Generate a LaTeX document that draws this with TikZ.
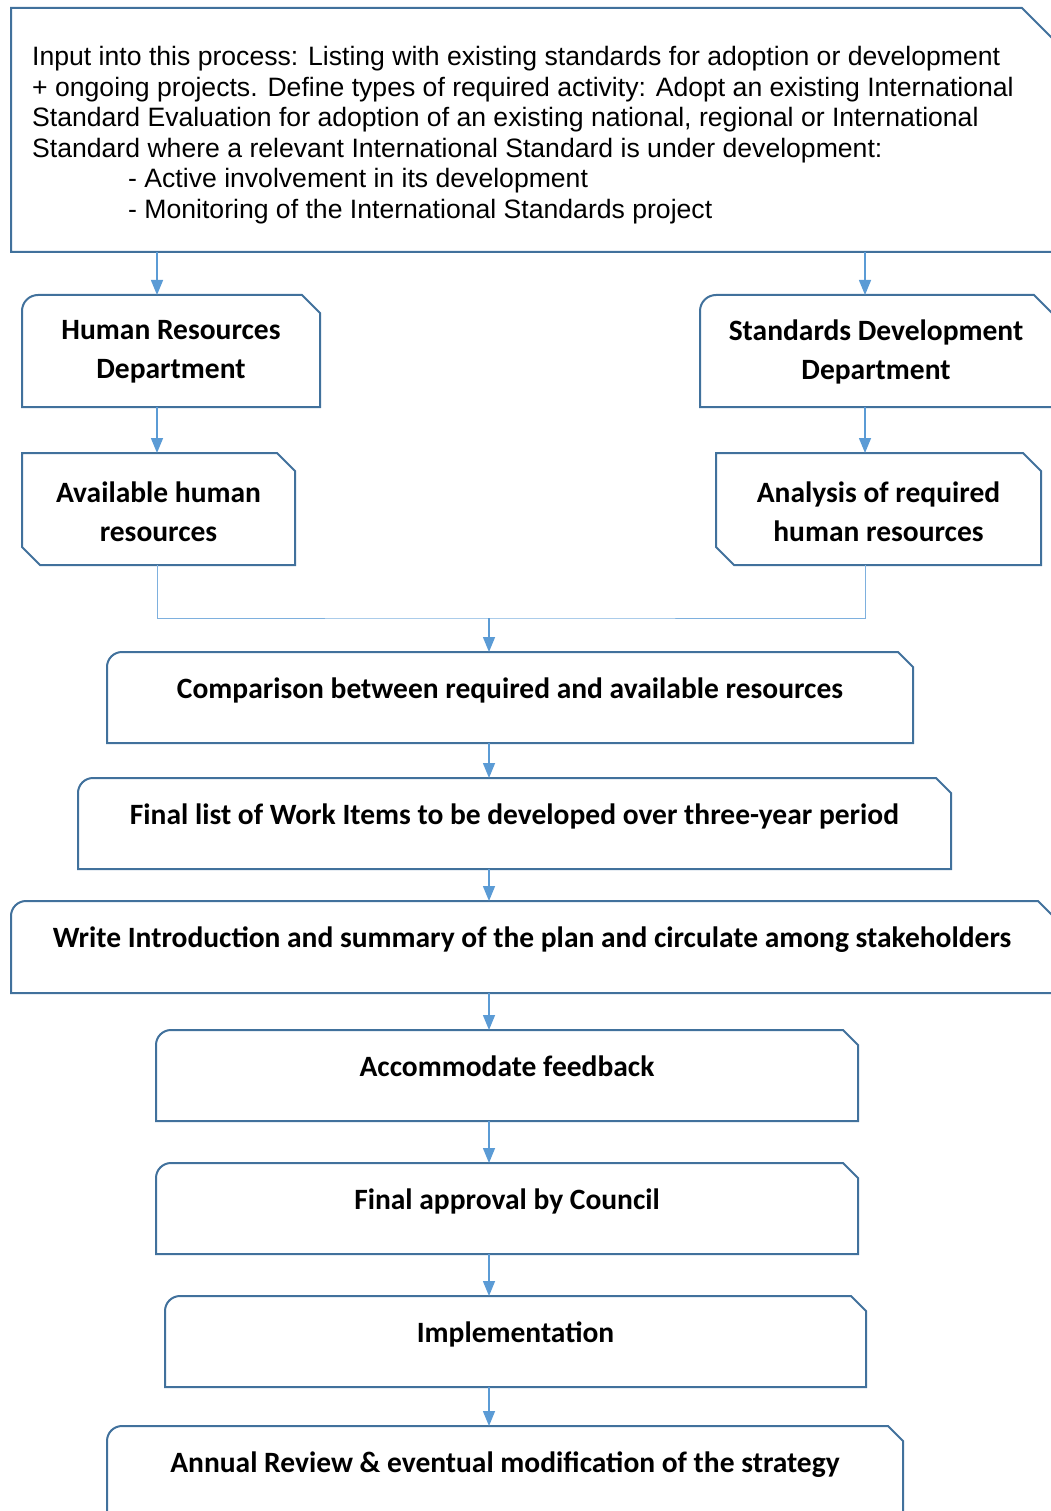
\documentclass[tikz,border=0pt]{standalone}
\usepackage{fontspec}
\setmainfont{Liberation Sans}
\newfontfamily\lblfont{Carlito}
\usetikzlibrary{arrows.meta}
\definecolor{boxblue}{HTML}{41719C}
\definecolor{arrblue}{HTML}{5B9BD5}
\definecolor{mergeblue}{HTML}{7EB0DE}
% rounded top-left corner (radius #2) and chamfered top-right corner (#3)
\newcommand{\roundchamfer}[3]{%
  \draw[boxline] (#1.south west) -- ([yshift=-#2pt]#1.north west)
    .. controls ([yshift={-0.448*#2pt}]#1.north west) and ([xshift={0.448*#2pt}]#1.north west) ..
    ([xshift=#2pt]#1.north west) -- ([xshift=-#3pt]#1.north east) -- ([yshift=-#3pt]#1.north east)
    -- (#1.south east) -- cycle;}
% chamfered top-right and bottom-left corners (#2)
\newcommand{\doublechamfer}[2]{%
  \draw[boxline] ([yshift=#2pt]#1.south west) -- (#1.north west) -- ([xshift=-#2pt]#1.north east)
    -- ([yshift=-#2pt]#1.north east) -- (#1.south east) -- ([xshift=#2pt]#1.south west) -- cycle;}
\begin{document}
\begin{tikzpicture}[x=1pt,y=-1pt,
  boxnode/.style={inner sep=0pt,outer sep=0pt,anchor=north west},
  boxline/.style={draw=boxblue,line width=2pt,line join=miter},
  arr/.style={draw=arrblue,line width=1.5pt,-{Triangle[width=12pt,length=15pt]}},
  mline/.style={draw=mergeblue,line width=1pt},
  lbl1/.style={font=\lblfont\bfseries\fontsize{29.5}{39}\selectfont,text height=21pt,text depth=6pt,inner sep=0pt,anchor=center},
  lbl2/.style={font=\lblfont\bfseries\fontsize{29.5}{39}\selectfont,align=center,inner sep=0pt,anchor=center},
  toptext/.style={font=\fontsize{26.6}{30.5}\selectfont,align=left,inner sep=0pt,anchor=west}]
\useasboundingbox (0,0) rectangle (1051,1511);
\clip (0,0) rectangle (1051,1511);
% helper columns for the connectors
\coordinate (xL) at (157,0);
\coordinate (xR) at (865,0);
\coordinate (xC) at (489,0);
\coordinate (merge) at (489,618);
% box frames
\node[boxnode,minimum width=1051pt,minimum height=244pt] (top) at (11,8) {};
\node[boxnode,minimum width=298pt,minimum height=112pt] (hr) at (22,295) {};
\node[boxnode,minimum width=352pt,minimum height=112pt] (sdd) at (700,295) {};
\node[boxnode,minimum width=273pt,minimum height=112pt] (avail) at (22,453) {};
\node[boxnode,minimum width=325pt,minimum height=112pt] (ana) at (716,453) {};
\node[boxnode,minimum width=806pt,minimum height=91pt] (cmp) at (107,652) {};
\node[boxnode,minimum width=873pt,minimum height=91pt] (fin) at (78,778) {};
\node[boxnode,minimum width=1042pt,minimum height=92pt] (wri) at (11,901) {};
\node[boxnode,minimum width=702pt,minimum height=91pt] (acc) at (156,1030) {};
\node[boxnode,minimum width=702pt,minimum height=91pt] (app) at (156,1163) {};
\node[boxnode,minimum width=701pt,minimum height=91pt] (imp) at (165,1296) {};
\node[boxnode,minimum width=796pt,minimum height=110pt] (ann) at (107,1426) {};
% shapes
\roundchamfer{top}{0}{40}
\roundchamfer{hr}{16}{18}
\roundchamfer{sdd}{16}{18}
\doublechamfer{avail}{18}
\doublechamfer{ana}{18}
\roundchamfer{cmp}{15}{15}
\roundchamfer{fin}{15}{15}
\roundchamfer{wri}{15}{15}
\roundchamfer{acc}{15}{15}
\roundchamfer{app}{15}{15}
\roundchamfer{imp}{15}{15}
\roundchamfer{ann}{15}{15}
% texts
\node[toptext] (topT) at (32,135) {Input into this process: Listing with existing standards for adoption or development\\
+ ongoing projects. Define types of required activity: Adopt an existing International\\
Standard Evaluation for adoption of an existing national, regional or International\\
Standard where a relevant International Standard is under development:\\
\hspace*{96pt}- Active involvement in its development\\
\hspace*{96pt}- Monitoring of the International Standards project};
\node[lbl2] (hrT) at ([yshift=-57pt]hr.north) {Human Resources\\Department};
\node[lbl2] (sddT) at ([yshift=-57pt]sdd.north) {Standards Development\\Department};
\node[lbl2] (availT) at ([yshift=-59pt]avail.north) {Available human\\resources};
\node[lbl2] (anaT) at ([yshift=-59pt]ana.north) {Analysis of required\\human resources};
\node[lbl1] (cmpT) at ([yshift=-38.5pt]cmp.north) {Comparison between required and available resources};
\node[lbl1] (finT) at ([yshift=-38.5pt]fin.north) {Final list of Work Items to be developed over three-year period};
\node[lbl1] (wriT) at ([yshift=-38.5pt]wri.north) {Write Introduction and summary of the plan and circulate among stakeholders};
\node[lbl1] (accT) at ([yshift=-38.5pt]acc.north) {Accommodate feedback};
\node[lbl1] (appT) at ([yshift=-38.5pt]app.north) {Final approval by Council};
\node[lbl1] (impT) at ([yshift=-38.5pt]imp.north) {Implementation};
\node[lbl1] (annT) at ([yshift=-38.5pt]ann.north) {Annual Review \& eventual modification of the strategy};
% connectors
\draw[arr] (top.south -| xL) -- (hr.north -| xL);
\draw[arr] (top.south -| xR) -- (sdd.north -| xR);
\draw[arr] (hr.south -| xL) -- (avail.north -| xL);
\draw[arr] (sdd.south -| xR) -- (ana.north -| xR);
\draw[mline] (avail.south -| xL) |- (merge) -| (ana.south -| xR);
\draw[arr] (merge) -- (cmp.north -| xC);
\draw[arr] (cmp.south -| xC) -- (fin.north -| xC);
\draw[arr] (fin.south -| xC) -- (wri.north -| xC);
\draw[arr] (wri.south -| xC) -- (acc.north -| xC);
\draw[arr] (acc.south -| xC) -- (app.north -| xC);
\draw[arr] (app.south -| xC) -- (imp.north -| xC);
\draw[arr] (imp.south -| xC) -- (ann.north -| xC);
\end{tikzpicture}
\end{document}
